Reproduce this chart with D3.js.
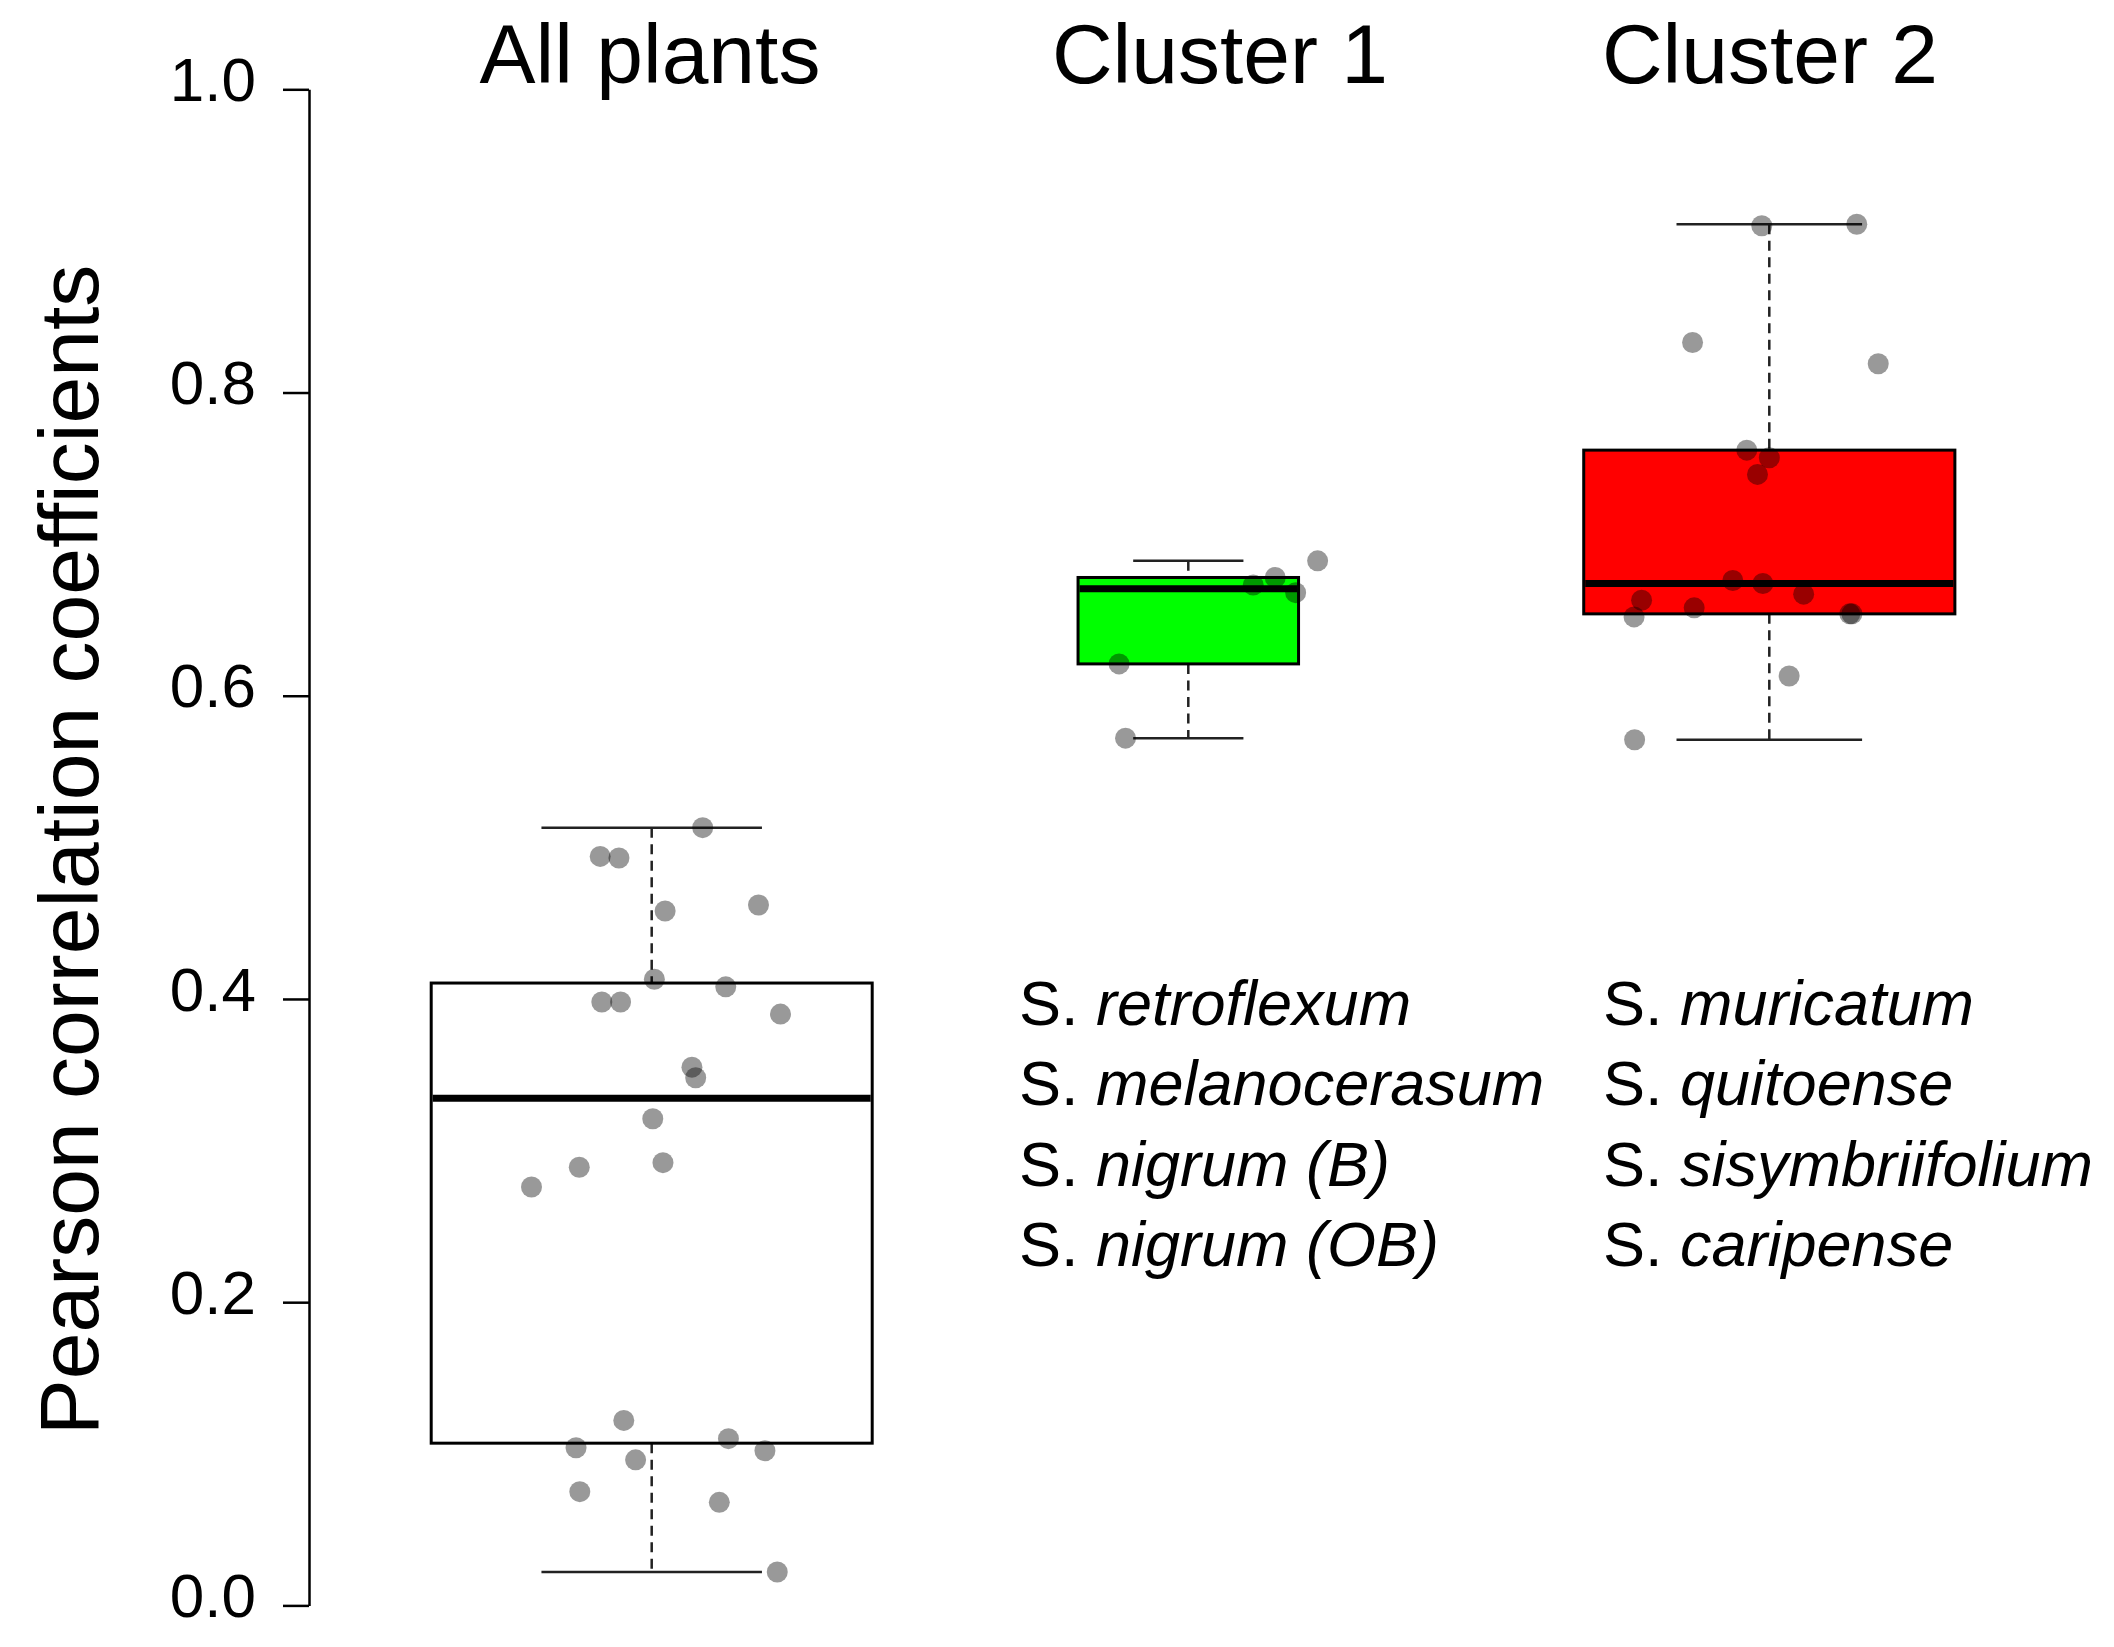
<!DOCTYPE html>
<html lang="en">
<head>
<meta charset="utf-8">
<script src="https://d3js.org/d3.v7.min.js"></script>
<style>
  body { margin: 0; background: #fff; }
  svg { display: block; background: #fff; font-family: "Liberation Sans", Arial, sans-serif; }
</style>
</head>
<body>
<script>
// groups and values
var groups = ["All plants", "Cluster 1", "Cluster 2"];

var allPlants = [0.513, 0.494, 0.493, 0.458, 0.462, 0.413, 0.408, 0.398, 0.398, 0.390, 0.355, 0.348,
                 0.321, 0.289, 0.292, 0.276, 0.122, 0.104, 0.096, 0.110, 0.102, 0.075, 0.068, 0.022];
// horizontal jitter of each point, in units of group spacing
var allJitter = [0.095, -0.096, -0.061, 0.025, 0.199, 0.005, 0.138, -0.093, -0.058, 0.240, 0.075, 0.082,
                 0.002, -0.135, 0.021, -0.224, -0.052, -0.141, -0.030, 0.143, 0.211, -0.134, 0.126, 0.234];

var cluster1 = [0.689, 0.678, 0.673, 0.668, 0.621, 0.572];
var cluster1Jitter = [0.241, 0.162, 0.121, 0.200, -0.129, -0.117];

var cluster2 = [0.910, 0.911, 0.833, 0.819, 0.762, 0.757, 0.746, 0.676, 0.674, 0.663, 0.667, 0.658,
                0.652, 0.654, 0.613, 0.571, 0.654];
var cluster2Jitter = [-0.014, 0.163, -0.143, 0.203, -0.042, 0.000, -0.022, -0.068, -0.012, -0.238, 0.064, -0.140,
                      -0.252, 0.154, 0.037, -0.251, 0.150];

var yTicks = [0.0, 0.2, 0.4, 0.6, 0.8, 1.0];
var yTitle = "Pearson correlation coefficients";

var cluster1Species = ["retroflexum", "melanocerasum", "nigrum (B)", "nigrum (OB)"];
var cluster2Species = ["muricatum", "quitoense", "sisymbriifolium", "caripense"];

var boxColors = ["#ffffff", "#00ff00", "#ff0000"];

// R style five number summary (Tukey hinges)
function fivenum(arr) {
  var s = arr.slice().sort(d3.ascending);
  var n = s.length;
  var n4 = Math.floor((n + 3) / 2) / 2;
  var d = [1, n4, (n + 1) / 2, n + 1 - n4, n];
  return d.map(function(i) { return 0.5 * (s[Math.floor(i) - 1] + s[Math.ceil(i) - 1]); });
}

var width = 2114, height = 1647;
var svg = d3.select("body").append("svg").attr("width", width).attr("height", height);

var y = d3.scaleLinear().domain([0, 1]).range([1605.4, 89.3]);
var xCenter = d3.scaleOrdinal().domain(groups).range([651.7, 1188.3, 1769.3]);
var xTitle = d3.scaleOrdinal().domain(groups).range([650, 1220, 1770]);
var xJit = d3.scaleLinear().domain([0, 1]).range([0, 536.6]);
var fill = d3.scaleOrdinal().domain(groups).range(boxColors);

var series = groups.map(function(g, i) {
  var vals = [allPlants, cluster1, cluster2][i];
  var jit = [allJitter, cluster1Jitter, cluster2Jitter][i];
  var f = fivenum(vals);
  var iqr = f[3] - f[1];
  var lo = d3.min(vals.filter(function(v) { return v >= f[1] - 1.5 * iqr; }));
  var hi = d3.max(vals.filter(function(v) { return v <= f[3] + 1.5 * iqr; }));
  return { name: g, values: vals, jitter: jit, q1: f[1], med: f[2], q3: f[3], lo: lo, hi: hi };
});
var maxN = d3.max(series, function(s) { return s.values.length; });
var boxW = function(s) { return 441 * Math.sqrt(s.values.length / maxN); };

// y axis
var axisX = 309;
var yAxis = svg.append("g")
  .attr("transform", "translate(" + axisX + ",0)")
  .call(d3.axisLeft(y).tickValues(yTicks).tickFormat(d3.format(".1f")).tickSize(26).tickSizeOuter(0));
yAxis.select(".domain").attr("stroke", "#000").attr("stroke-width", 2.5);
yAxis.selectAll(".tick line").attr("stroke", "#000").attr("stroke-width", 2.5);
yAxis.selectAll(".tick text")
  .attr("font-size", 62)
  .attr("font-family", "Liberation Sans, Arial, sans-serif")
  .attr("fill", "#000")
  .attr("dy", "0.18em")
  .attr("x", -53);

svg.append("text")
  .attr("transform", "translate(98,850) rotate(-90)")
  .attr("text-anchor", "middle")
  .attr("font-size", 84)
  .attr("fill", "#000")
  .text(yTitle);

// group titles
svg.selectAll(".gtitle")
  .data(groups)
  .enter()
  .append("text")
  .attr("class", "gtitle")
  .attr("x", function(d) { return xTitle(d); })
  .attr("y", 83)
  .attr("text-anchor", "middle")
  .attr("font-size", 84)
  .attr("fill", "#000")
  .text(function(d) { return d; });

// boxes
var g = svg.selectAll(".box")
  .data(series)
  .enter()
  .append("g")
  .attr("class", "box");

g.append("line")
  .attr("x1", function(d) { return xCenter(d.name); })
  .attr("x2", function(d) { return xCenter(d.name); })
  .attr("y1", function(d) { return y(d.hi); })
  .attr("y2", function(d) { return y(d.q3); })
  .attr("stroke", "#222").attr("stroke-width", 2.5).attr("stroke-dasharray", "10,6.5");
g.append("line")
  .attr("x1", function(d) { return xCenter(d.name); })
  .attr("x2", function(d) { return xCenter(d.name); })
  .attr("y1", function(d) { return y(d.q1); })
  .attr("y2", function(d) { return y(d.lo); })
  .attr("stroke", "#222").attr("stroke-width", 2.5).attr("stroke-dasharray", "10,6.5");

["hi", "lo"].forEach(function(k) {
  g.append("line")
    .attr("x1", function(d) { return xCenter(d.name) - boxW(d) / 4; })
    .attr("x2", function(d) { return xCenter(d.name) + boxW(d) / 4; })
    .attr("y1", function(d) { return y(d[k]); })
    .attr("y2", function(d) { return y(d[k]); })
    .attr("stroke", "#222").attr("stroke-width", 2.5);
});

g.append("rect")
  .attr("x", function(d) { return xCenter(d.name) - boxW(d) / 2; })
  .attr("width", function(d) { return boxW(d); })
  .attr("y", function(d) { return y(d.q3); })
  .attr("height", function(d) { return y(d.q1) - y(d.q3); })
  .attr("fill", function(d) { return fill(d.name); })
  .attr("stroke", "#000").attr("stroke-width", 3);

g.append("line")
  .attr("x1", function(d) { return xCenter(d.name) - boxW(d) / 2 + 1.5; })
  .attr("x2", function(d) { return xCenter(d.name) + boxW(d) / 2 - 1.5; })
  .attr("y1", function(d) { return y(d.med); })
  .attr("y2", function(d) { return y(d.med); })
  .attr("stroke", "#000").attr("stroke-width", 7);

// jittered points
g.selectAll("circle")
  .data(function(d) {
    return d.values.map(function(v, i) { return { name: d.name, v: v, j: d.jitter[i] }; });
  })
  .enter()
  .append("circle")
  .attr("cx", function(p) { return xCenter(p.name) + xJit(p.j); })
  .attr("cy", function(p) { return y(p.v); })
  .attr("r", 10.5)
  .attr("fill", "#000")
  .attr("fill-opacity", 0.4);

// species lists
function speciesList(list, x0) {
  var t = svg.append("g").selectAll("text")
    .data(list)
    .enter()
    .append("text")
    .attr("x", x0)
    .attr("y", function(d, i) { return 1025 + i * 80.4; })
    .attr("font-size", 63)
    .attr("fill", "#000");
  t.append("tspan").text("S.");
  t.append("tspan").attr("font-style", "italic").text(function(d) { return " " + d; });
}
speciesList(cluster1Species, 1019);
speciesList(cluster2Species, 1603);
</script>
</body>
</html>
